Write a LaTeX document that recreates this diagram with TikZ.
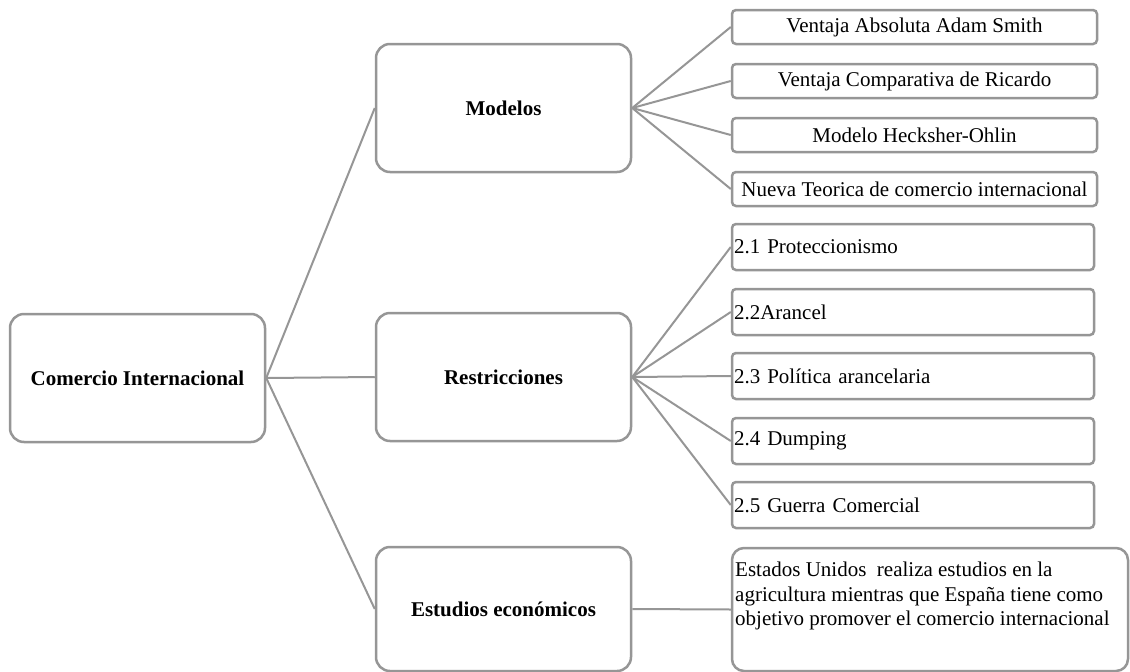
\documentclass[tikz,border=0pt]{standalone}
\usepackage{fontspec}
\setmainfont{Liberation Serif}
\definecolor{boxgray}{RGB}{150,150,150}
\begin{document}
\begin{tikzpicture}[x=1pt,y=-1pt,
  bigbox/.style={draw=boxgray,line width=2.5pt,rounded corners=14pt,minimum width=255pt,minimum height=128pt,inner sep=0pt,font=\fontsize{21}{24}\selectfont\bfseries,fill=white},
  topbox/.style={draw=boxgray,line width=2.5pt,rounded corners=4pt,minimum width=365pt,minimum height=34pt,inner sep=0pt,font=\fontsize{21}{24}\selectfont,fill=white},
  resbox/.style={draw=boxgray,line width=2.5pt,rounded corners=4pt,minimum width=362pt,minimum height=46pt,inner xsep=2pt,inner ysep=0pt,text width=358pt,align=left,font=\fontsize{21}{24}\selectfont,fill=white},
  estbox/.style={draw=boxgray,line width=2.5pt,rounded corners=12pt,minimum width=396pt,minimum height=123pt,inner sep=0pt,fill=white},
  conn/.style={draw=boxgray,line width=2pt}]
\useasboundingbox (0,0) rectangle (1130,672);
% main boxes
\node[bigbox] (ci) at (137.5,378) {Comercio Internacional};
\node[bigbox] (mod) at (503.5,108) {Modelos};
\node[bigbox] (res) at (503.5,377) {Restricciones};
\node[bigbox,minimum height=124pt] (est) at (503.5,609) {Estudios económicos};
% model children
\node[topbox] (m1) at (914.5,27) {Ventaja Absoluta Adam Smith};
\node[topbox] (m2) at (914.5,81) {Ventaja Comparativa de Ricardo};
\node[topbox] (m3) at (914.5,135) {Modelo Hecksher-Ohlin};
\node[topbox] (m4) at (914.5,189) {Nueva Teorica de comercio internacional};
% restricciones children
\node[resbox] (r1) at (913,247) {2.1 Proteccionismo};
\node[resbox] (r2) at (913,312) {2.2Arancel};
\node[resbox] (r3) at (913,376) {2.3 Política arancelaria};
\node[resbox] (r4) at (913,441) {2.4 Dumping};
\node[resbox] (r5) at (913,505) {2.5 Guerra Comercial};
% estudios child
\node[estbox] (e1) at (930,609.5) {};
\node[anchor=west,inner sep=0pt,align=left,font=\fontsize{21}{24.5}\selectfont] (e1t) at (735,596) {Estados Unidos\ \ realiza estudios en la\\agricultura mientras que España tiene como\\objetivo promover el comercio internacional};
% connectors
\draw[conn] (ci.east) -- (mod.west);
\draw[conn] (ci.east) -- (res.west);
\draw[conn] (ci.east) -- (est.west);
\foreach \c in {m1,m2,m3,m4} \draw[conn] (mod.east) -- (\c.west);
\foreach \c in {r1,r2,r3,r4,r5} \draw[conn] (res.east) -- (\c.west);
\draw[conn] (est.east) -- (e1.west);
\end{tikzpicture}
\end{document}
